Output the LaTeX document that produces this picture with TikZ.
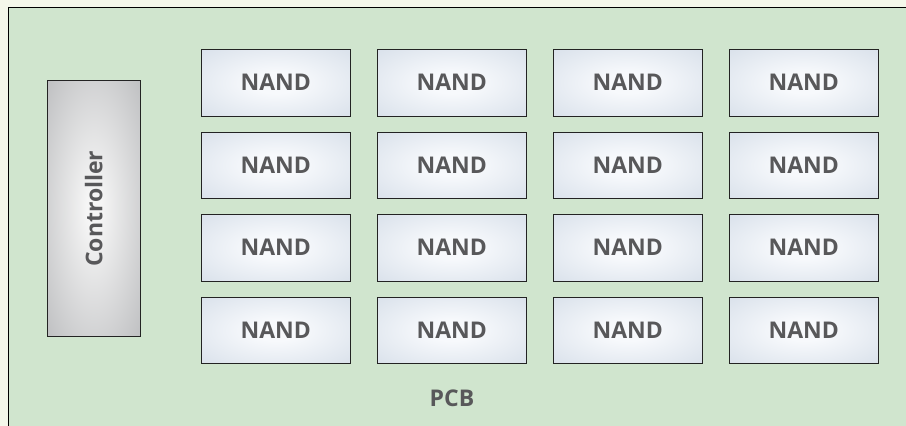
\documentclass[tikz,border=0pt]{standalone}
\usepackage{fontspec}
\setmainfont{Open Sans}
\definecolor{colorChip}{RGB}{211, 220, 231}    % NAND edge
\definecolor{colorChipMid}{RGB}{247, 249, 252} % NAND centre
\definecolor{colorCtrl}{RGB}{187, 188, 190}    % Controller edge
\definecolor{colorCtrlMid}{RGB}{245, 245, 245} % Controller centre
\pgfdeclareradialshading{chipshade}{\pgfpoint{0bp}{0bp}}{%
  color(0bp)=(colorChipMid); color(8bp)=(colorChipMid);
  color(42bp)=(colorChip); color(80bp)=(colorChip)}
\pgfdeclareradialshading{ctrlshade}{\pgfpoint{0bp}{0bp}}{%
  color(0bp)=(colorCtrlMid); color(4bp)=(colorCtrlMid);
  color(38bp)=(colorCtrl); color(80bp)=(colorCtrl)}
\begin{document}
\begin{tikzpicture}[x=1pt,y=1pt,yscale=-1,xscale=1]

% --- CONFIGURATION ---
\def\cw{148.5} % Chip Width
\def\ch{66.5}  % Chip Height
\definecolor{colorBack}{RGB}{244, 247, 234} % Page
\definecolor{colorPcb}{RGB}{208, 229, 206}  % Board green
\definecolor{colorText}{RGB}{88, 88, 90}

\tikzset{
  chipbox/.style={draw={rgb,255:red,35; green,35; blue,35}, line width=0.9pt,
    shading=chipshade,
    minimum width=\cw, minimum height=\ch, inner sep=0pt,
    font=\fontsize{23}{26}\selectfont\bfseries, text=colorText},
  ctrlbox/.style={draw={rgb,255:red,35; green,35; blue,35}, line width=0.9pt,
    shading=ctrlshade,
    minimum width=256, minimum height=92.5, inner sep=0pt, rotate=90,
    font=\fontsize{23}{26}\selectfont\bfseries, text=colorText},
  boardlabel/.style={font=\fontsize{23}{26}\selectfont\bfseries, text=colorText}
}

% --- PAGE AND BOARD ---
\useasboundingbox (0,0) rectangle (906,426);
\fill[colorBack] (0,0) rectangle (906,426);
\begin{scope}
\clip (0,0) rectangle (906,426);
\draw[fill=colorPcb, line width=1pt] (8.5,7.5) rectangle (930,450);
\end{scope}

% --- CONTROLLER ---
\node[ctrlbox] (ctrl) at (93.7, 208.7) {Controller};

% --- NAND GRID (4 x 4) ---
\foreach \r in {1,...,4} {
  \foreach \c in {1,...,4} {
    \node[chipbox] (nand-\r-\c) at (99.75 + \c*176, 0.25 + \r*82.5) {NAND};
  }
}

% --- LABEL ---
\node[boardlabel] (pcb) at (452, 398) {PCB};

\end{tikzpicture}
\end{document}
